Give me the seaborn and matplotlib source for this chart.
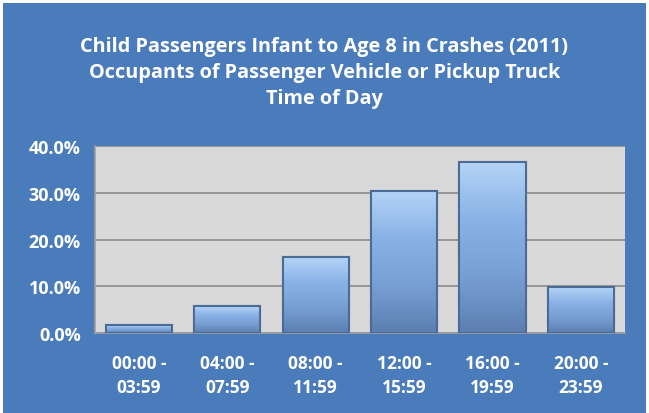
import numpy as np
import pandas as pd
import matplotlib
matplotlib.use("Agg")
import matplotlib.pyplot as plt
import seaborn as sns
from matplotlib.patches import Rectangle
from matplotlib.ticker import FuncFormatter, FixedLocator

# time-of-day buckets and share of child passengers (percent)
time_slots = ["00:00 -\n03:59", "04:00 -\n07:59", "08:00 -\n11:59",
              "12:00 -\n15:59", "16:00 -\n19:59", "20:00 -\n23:59"]
share_pct = [1.7, 5.7, 16.2, 30.4, 36.5, 9.8]
y_ticks = [0, 10, 20, 30, 40]

crash_data = pd.DataFrame({"slot": time_slots, "share": share_pct})

blue_bg = "#4A7BBB"
sns.set_style("white")
plt.rcParams["font.family"] = ["Open Sans", "DejaVu Sans"]

fig = plt.figure(figsize=(6.49, 4.14), dpi=100, facecolor="white")
fig.patches.append(Rectangle((0.005, 0.0), 0.99, 0.99, transform=fig.transFigure,
                             facecolor=blue_bg, edgecolor="none", zorder=-5))
ax = fig.add_axes([0.146, 0.193, 0.817, 0.452])
ax.set_facecolor("#D9D9D9")

sns.barplot(data=crash_data, x="slot", y="share", color="#7EA6DC",
            width=0.75, edgecolor="#4C6C96", linewidth=1.5, ax=ax, zorder=3)

# vertical shading on each bar to mimic the bevelled look
grad = np.linspace(0, 1, 100).reshape(-1, 1)
cmap = matplotlib.colors.LinearSegmentedColormap.from_list(
    "bevel", ["#5C7FB0", "#789FD4", "#8AB2E6", "#B3D4F7"])
for bar in list(ax.patches):
    x0, y0 = bar.get_x(), bar.get_y()
    w, h = bar.get_width(), bar.get_height()
    im = ax.imshow(grad, cmap=cmap, aspect="auto", origin="lower",
                   extent=[x0, x0 + w, y0, y0 + h], zorder=3.5)
    im.set_clip_path(bar)
    ax.add_patch(Rectangle((x0, y0), w, h, fill=False, edgecolor="#4C6C96",
                           linewidth=1.5, zorder=4))

ax.set_xlim(-0.5, 5.5)
ax.set_ylim(0, 40)
ax.set_yticks(y_ticks)
ax.yaxis.set_major_formatter(FuncFormatter(lambda v, p: f"{v:.1f}%"))
ax.grid(axis="y", color="#8C8C8C", linewidth=1.2, zorder=1)
ax.set_axisbelow(True)

ax.xaxis.set_minor_locator(FixedLocator(np.arange(-0.5, 6, 1)))
ax.tick_params(axis="x", which="major", length=0, pad=15,
               labelsize=12.5, labelcolor="white")
ax.tick_params(axis="x", which="minor", length=5, color="#A0A0A0", width=1.2)
ax.tick_params(axis="y", length=5, color="#A0A0A0", width=1.2, pad=5,
               labelsize=13, labelcolor="white")
for lab in ax.get_xticklabels() + ax.get_yticklabels():
    lab.set_fontweight("bold")
    lab.set_linespacing(1.45)

for side in ["top", "right"]:
    ax.spines[side].set_visible(False)
for side in ["left", "bottom"]:
    ax.spines[side].set_color("#A0A0A0")
    ax.spines[side].set_linewidth(1.2)

ax.set_xlabel("")
ax.set_ylabel("")

fig.text(0.5, 0.824,
         "Child Passengers Infant to Age 8 in Crashes (2011)\n"
         "Occupants of Passenger Vehicle or Pickup Truck\nTime of Day",
         ha="center", va="center", color="white", fontsize=14.3,
         fontweight="bold", linespacing=1.4)

fig.savefig("out.png", dpi=100, facecolor="white")
